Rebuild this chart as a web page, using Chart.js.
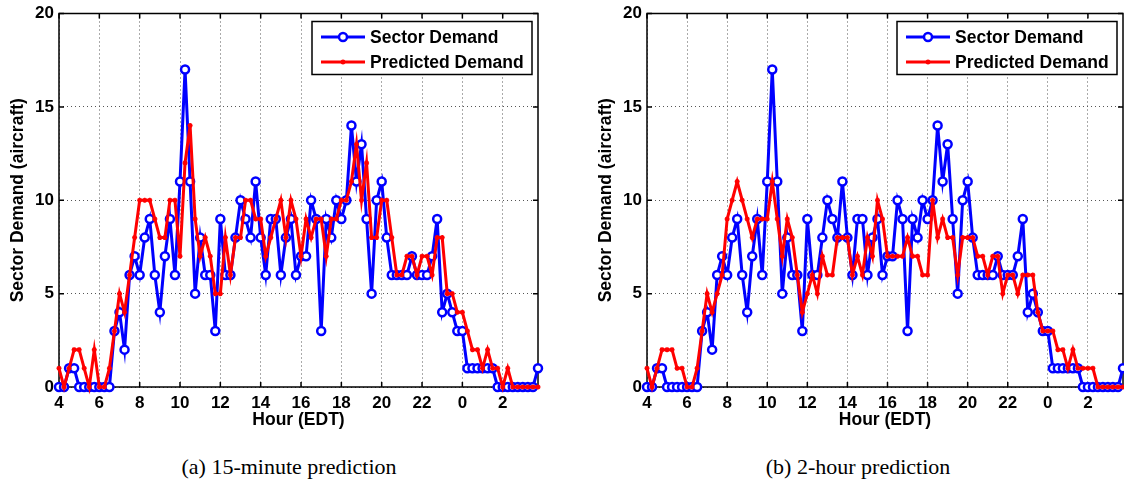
<!DOCTYPE html>
<html>
<head>
<meta charset="utf-8">
<script src="https://cdn.jsdelivr.net/npm/chart.js@4"></script>
<style>
  html, body { margin: 0; padding: 0; background: #fff; overflow: hidden; }
  body { width: 1124px; height: 486px; position: relative; }
  canvas { position: absolute; top: 0; }
  #left { left: 0; }
  #right { left: 588px; }
  .caption {
    position: absolute; top: 454px; line-height: 26px;
    font-family: 'Liberation Serif', serif; font-size: 22px;
    transform: translateX(-50%); white-space: nowrap; color: #000;
  }
</style>
</head>
<body>
<canvas id="left" width="560" height="440" style="width:560px;height:440px"></canvas>
<canvas id="right" width="560" height="440" style="width:560px;height:440px"></canvas>
<div class="caption" style="left:289px">(a) 15-minute prediction</div>
<div class="caption" style="left:858px">(b) 2-hour prediction</div>
<script>
// 15-minute slots from 4:00 EDT to 3:45 the next morning
const hours = Array.from({ length: 96 }, (_, i) => 4 + i / 4);

const tickHours = [4, 6, 8, 10, 12, 14, 16, 18, 20, 22, 24, 26];
const tickLabels = ['4', '6', '8', '10', '12', '14', '16', '18', '20', '22', '0', '2'];

const sectorDemand = [
  0, 0, 1, 1, 0, 0, 0, 0, 0, 0, 0,
  3, 4, 2, 6, 7, 6, 8, 9, 6, 4,
  7, 9, 6, 11, 17, 11, 5, 8, 6, 6,
  3, 9, 6, 6, 8, 10, 9, 8, 11, 8,
  6, 9, 9, 6, 8, 9, 6, 7, 7, 10,
  9, 3, 9, 8, 10, 9, 10, 14, 11, 13,
  9, 5, 10, 11, 8, 6, 6, 6, 6, 7,
  6, 6, 6, 7, 9, 4, 5, 4, 3, 3,
  1, 1, 1, 1, 1, 1,
  0, 0, 0, 0, 0, 0, 0, 0,
  1
];

const predicted15min = [
  1, 0, 1, 2, 2, 1, 0, 2, 0, 0, 1,
  3, 5, 4, 6, 8, 10, 10, 10, 9, 8,
  8, 10, 10, 7, 12, 14, 9, 7, 8, 7,
  5, 5, 8, 6, 8, 8, 10, 10, 9, 9,
  7, 8, 9, 10, 8, 10, 9, 7, 9, 8,
  9, 9, 7, 9, 9, 10, 10, 11, 13, 10,
  12, 8, 8, 10, 10, 8, 6, 6, 7, 7,
  6, 7, 7, 6, 8, 8, 5, 5, 4, 4,
  3, 2, 2, 1, 2, 1, 1, 0, 1, 0,
  0, 0, 0, 0, 0
];

const predicted2h = [
  1, 0, 1, 2, 2, 2, 1, 1, 0, 0, 1,
  3, 5, 4, 5, 6, 9, 10, 11, 10, 9,
  8, 9, 9, 9, 11, 9, 7, 9, 8, 6,
  4, 5, 6, 5, 7, 6, 6, 8, 8, 8,
  6, 7, 6, 8, 7, 10, 9, 7, 7, 7,
  7, 8, 7, 7, 6, 6, 10, 8, 9, 8,
  8, 6, 8, 8, 8, 7, 7, 6, 7, 7,
  5, 6, 6, 5, 6, 6, 6, 4, 3, 3,
  3, 2, 2, 1, 2, 1, 1, 1, 1, 0,
  0, 0, 0, 0, 0
];

const boldFont = size => ({ family: "'Liberation Sans', Arial, sans-serif", size: size, weight: 'bold', lineHeight: 1.2 });

// box round the plot with short inward ticks, like matlab axes
const axesBox = {
  id: 'axesBox',
  beforeDatasetsDraw(chart) {
    const { ctx, chartArea: a, scales } = chart;
    ctx.save();
    ctx.strokeStyle = '#000';
    ctx.lineWidth = 1.5;
    ctx.beginPath();
    scales.x.ticks.forEach(t => {
      const px = scales.x.getPixelForValue(t.value);
      ctx.moveTo(px, a.bottom); ctx.lineTo(px, a.bottom - 5);
      ctx.moveTo(px, a.top); ctx.lineTo(px, a.top + 5);
    });
    scales.y.ticks.forEach(t => {
      const py = scales.y.getPixelForValue(t.value);
      ctx.moveTo(a.left, py); ctx.lineTo(a.left + 5, py);
      ctx.moveTo(a.right, py); ctx.lineTo(a.right - 5, py);
    });
    ctx.stroke();
    ctx.strokeRect(a.left, a.top, a.width, a.height);
    ctx.restore();
  }
};

// legend box in the top right corner of the plot
const legendBox = {
  id: 'legendBox',
  afterDraw(chart) {
    const { ctx, chartArea } = chart;
    const w = 220, h = 53;
    const x0 = chartArea.right - 6 - w;
    const y0 = chartArea.top + 8;
    ctx.save();
    ctx.fillStyle = '#fff';
    ctx.fillRect(x0, y0, w, h);
    ctx.lineWidth = 1.5;
    ctx.strokeStyle = '#000';
    ctx.strokeRect(x0, y0, w, h);
    chart.data.datasets.forEach((ds, i) => {
      const y = y0 + 15.5 + i * 25;
      ctx.strokeStyle = ds.borderColor;
      ctx.lineWidth = ds.borderWidth;
      ctx.beginPath();
      ctx.moveTo(x0 + 9, y);
      ctx.lineTo(x0 + 53, y);
      ctx.stroke();
      ctx.fillStyle = ds.pointBackgroundColor;
      ctx.strokeStyle = ds.pointBorderColor;
      ctx.lineWidth = ds.pointBorderWidth;
      Chart.helpers.drawPoint(ctx, {
        pointStyle: ds.pointStyle, radius: ds.pointRadius,
        borderWidth: ds.pointBorderWidth, rotation: 0
      }, x0 + 31, y);
      ctx.fillStyle = '#000';
      ctx.font = "bold 17.5px 'Liberation Sans', Arial, sans-serif";
      ctx.textBaseline = 'middle';
      ctx.fillText(ds.label, x0 + 58, y + 1);
    });
    ctx.restore();
  }
};

function makeChart(id, predicted, padRight) {
  return new Chart(document.getElementById(id), {
    type: 'line',
    data: {
      labels: hours,
      datasets: [{
        label: 'Sector Demand',
        data: sectorDemand,
        borderColor: '#0000ff',
        borderWidth: 3,
        pointStyle: 'circle',
        pointRadius: 4,
        pointBorderWidth: 2.5,
        pointBorderColor: '#0000ff',
        pointBackgroundColor: '#ffffff',
        tension: 0,
        clip: false,
        order: 2
      }, {
        label: 'Predicted Demand',
        data: predicted,
        borderColor: '#ff0000',
        borderWidth: 3,
        pointStyle: 'star',
        pointRadius: 2.5,
        pointBorderWidth: 1.5,
        pointBorderColor: '#ff0000',
        pointBackgroundColor: '#ff0000',
        tension: 0,
        clip: false,
        order: 1
      }]
    },
    options: {
      responsive: false,
      animation: false,
      events: [],
      layout: { padding: { left: 8, right: padRight, top: 9, bottom: 9 } },
      plugins: { legend: { display: false }, tooltip: { enabled: false } },
      scales: {
        x: {
          type: 'linear',
          min: 4,
          max: 27.75,
          afterBuildTicks: s => { s.ticks = tickHours.map(v => ({ value: v })); },
          afterFit: s => { s.height = 44; },
          ticks: {
            autoSkip: false, maxRotation: 0, padding: 6, color: '#000',
            font: boldFont(17),
            callback: v => tickLabels[tickHours.indexOf(v)]
          },
          grid: { color: '#555', lineWidth: 1, drawTicks: false },
          border: { display: false, dash: [1, 3] },
          title: { display: true, text: 'Hour (EDT)', color: '#000', font: boldFont(17.5), padding: 0 }
        },
        y: {
          min: 0,
          max: 20,
          afterFit: s => { s.width = 51; },
          ticks: {
            stepSize: 5, padding: 5, color: '#000',
            font: { family: "'Liberation Sans', Arial, sans-serif", size: 17, weight: 'bold', lineHeight: 1 }
          },
          grid: { color: '#555', lineWidth: 1, drawTicks: false },
          border: { display: false, dash: [1, 3] },
          title: { display: true, text: 'Sector Demand (aircraft)', color: '#000', font: boldFont(17.5), padding: 0 }
        }
      }
    },
    plugins: [axesBox, legendBox]
  });
}

makeChart('left', predicted15min, 22);
makeChart('right', predicted2h, 25);
</script>
</body>
</html>
